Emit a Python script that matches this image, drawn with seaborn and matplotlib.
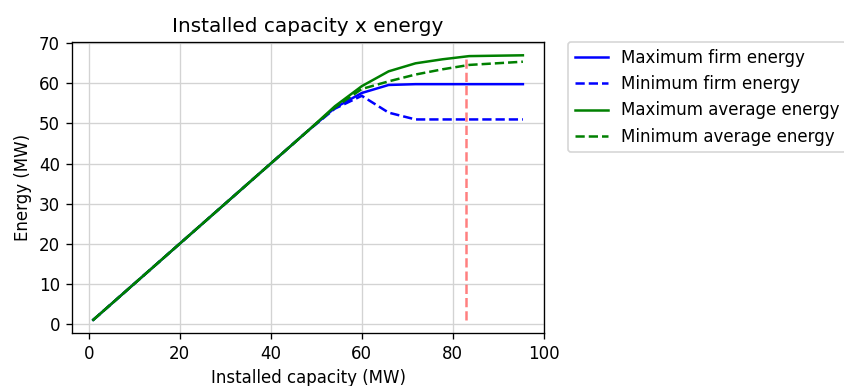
import pandas as pd
import seaborn as sns
import matplotlib
matplotlib.use("Agg")
import matplotlib.pyplot as plt

# installed capacity (MW)
capacity = [1.0, 6.9, 12.8, 18.7, 24.6, 30.5, 36.4, 42.3, 48.2, 54.1,
            60.0, 65.9, 71.8, 77.7, 83.6, 89.5, 95.4]

max_firm = [1.0, 6.9, 12.8, 18.7, 24.6, 30.5, 36.4, 42.3, 48.2, 53.9,
            57.6, 59.6, 59.8, 59.8, 59.8, 59.8, 59.8]
min_firm = [1.0, 6.9, 12.8, 18.7, 24.6, 30.5, 36.4, 42.3, 48.2, 53.7,
            56.9, 52.7, 51.0, 51.0, 51.0, 51.0, 51.0]
max_avg = [1.0, 6.9, 12.8, 18.7, 24.6, 30.5, 36.4, 42.3, 48.2, 54.3,
           59.3, 63.0, 65.0, 66.0, 66.8, 66.9, 67.0]
min_avg = [1.0, 6.9, 12.8, 18.7, 24.6, 30.5, 36.4, 42.3, 48.2, 54.0,
           58.6, 60.5, 62.2, 63.5, 64.6, 65.0, 65.4]

chosen_capacity = 83.0
vline_range = (1.0, 66.7)

series = [
    ('Maximum firm energy', max_firm, 'blue', '-'),
    ('Minimum firm energy', min_firm, 'blue', '--'),
    ('Maximum average energy', max_avg, 'green', '-'),
    ('Minimum average energy', min_avg, 'green', '--'),
]

# saved at 120 dpi, so fonts and lines come out a bit larger
fig, ax = plt.subplots(figsize=(844 / 120, 386 / 120), dpi=120)
fig.subplots_adjust(left=0.085, right=0.645, top=0.891, bottom=0.137)

for label, vals, color, ls in series:
    df = pd.DataFrame({'Capacity': capacity, 'Energy': vals})
    sns.lineplot(data=df, x='Capacity', y='Energy', color=color,
                 linestyle=ls, label=label, ax=ax)

ax.vlines(chosen_capacity, vline_range[0], vline_range[1], colors='red',
          linestyles='--', alpha=0.5)

ax.grid(True, color='#d3d3d3')
ax.set_axisbelow(True)
ax.set_yticks(range(0, 71, 10))
ax.set_title('Installed capacity x energy')
ax.set_xlabel('Installed capacity (MW)')
ax.set_ylabel('Energy (MW)')
ax.legend(loc='upper left', bbox_to_anchor=(1.05, 1), borderaxespad=0)

plt.savefig('out.png', dpi=120)
